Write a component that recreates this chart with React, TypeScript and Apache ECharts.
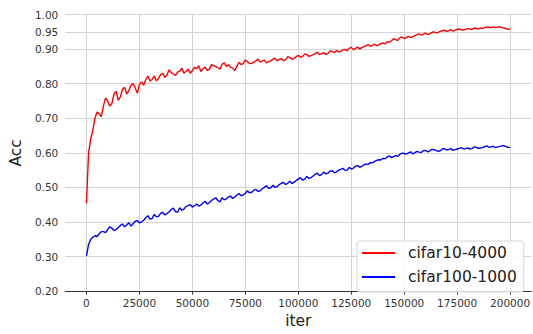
import React, { useEffect, useRef } from "react";
import * as echarts from "echarts";

// iterations (thousands) sampled on even steps
const iterEvenK = [
  0, 1, 2, 3, 4,
  6, 8, 10, 12, 14, 16, 18, 20, 22, 24,
  26, 28, 30, 32, 34, 36, 38, 40, 42, 44,
  46, 48, 50, 52, 54, 56, 58, 60, 62, 64,
  66, 68, 70, 72, 74, 76, 78, 80, 82, 84,
  86, 88, 90, 92, 94, 96, 98, 100, 102, 104,
  106, 108, 110, 112, 114, 116, 118, 120, 122, 124,
  126, 128, 130, 132, 134, 136, 138, 140, 142, 144,
  146, 148, 150, 152, 154, 156, 158, 160, 162, 164,
  166, 168, 170, 172, 174, 176, 178, 180, 182, 184,
  186, 188, 190, 192, 194, 196, 198, 200,
];

// iterations (thousands) sampled in between
const iterOddK = [
  5, 7, 9, 11, 13, 15, 17, 19, 21, 23,
  25, 27, 29, 31, 33, 35, 37, 39, 41, 43,
  45, 47, 49, 51, 53, 55, 57, 59, 61, 63,
  65, 67, 69, 71, 73, 75, 77, 79, 81, 83,
  85, 87, 89, 91, 93, 95, 97, 99,
  101, 103, 105, 107, 109, 111, 113, 115, 117, 119,
  121, 123, 125, 127, 129, 131, 133, 135, 137, 139,
  141, 143, 145, 147, 149, 151, 153, 155, 157, 159,
  161, 163, 165, 167, 169, 171, 173, 175, 177, 179,
  181, 183, 185, 187, 189, 191, 193, 195, 197, 199,
];

const cifar10Even = [
  0.455, 0.600, 0.640, 0.665, 0.700,
  0.712, 0.735, 0.750, 0.742, 0.778, 0.762, 0.790, 0.780, 0.800, 0.772,
  0.805, 0.812, 0.808, 0.822, 0.815, 0.830, 0.825, 0.832, 0.824, 0.836,
  0.830, 0.842, 0.838, 0.843, 0.835, 0.848, 0.842, 0.852, 0.846, 0.856,
  0.850, 0.848, 0.838, 0.862, 0.858, 0.864, 0.859, 0.866, 0.862, 0.868,
  0.864, 0.870, 0.866, 0.872, 0.869, 0.876, 0.873, 0.882, 0.878, 0.884,
  0.881, 0.887, 0.884, 0.890, 0.887, 0.893, 0.896, 0.893, 0.899, 0.902,
  0.898, 0.906, 0.904, 0.910, 0.908, 0.914, 0.912, 0.918, 0.921, 0.924,
  0.927, 0.933, 0.930, 0.937, 0.935, 0.942, 0.940, 0.946, 0.944, 0.950,
  0.948, 0.953, 0.951, 0.956, 0.954, 0.958, 0.955, 0.959, 0.957, 0.960,
  0.961, 0.962, 0.963, 0.964, 0.963, 0.962, 0.960, 0.958,
];

const cifar10Odd = [
  0.718, 0.705, 0.758, 0.735, 0.770, 0.752, 0.783, 0.770, 0.795, 0.788,
  0.798, 0.795, 0.822, 0.812, 0.808, 0.826, 0.818, 0.840, 0.828, 0.833,
  0.845, 0.836, 0.830, 0.847, 0.852, 0.843, 0.838, 0.855, 0.849, 0.842,
  0.860, 0.855, 0.845, 0.850, 0.855, 0.868, 0.858, 0.862, 0.871, 0.866,
  0.860, 0.866, 0.874, 0.870, 0.866, 0.878, 0.871, 0.878,
  0.876, 0.886, 0.879, 0.884, 0.891, 0.887, 0.884, 0.895, 0.890, 0.892,
  0.898, 0.895, 0.905, 0.902, 0.900, 0.907, 0.913, 0.911, 0.910, 0.916,
  0.915, 0.920, 0.930, 0.925, 0.935, 0.933, 0.934, 0.939, 0.944, 0.943,
  0.942, 0.948, 0.947, 0.951, 0.955, 0.953, 0.952, 0.957, 0.956, 0.957,
  0.958, 0.961, 0.958, 0.960, 0.964, 0.962, 0.962, 0.965, 0.961, 0.957,
];

const cifar100Even = [
  0.302, 0.335, 0.350, 0.356, 0.360,
  0.366, 0.372, 0.378, 0.382, 0.378, 0.390, 0.386, 0.398, 0.395, 0.404,
  0.400, 0.412, 0.408, 0.422, 0.416, 0.428, 0.424, 0.436, 0.430, 0.441,
  0.437, 0.447, 0.443, 0.452, 0.449, 0.460, 0.456, 0.466, 0.462, 0.470,
  0.467, 0.475, 0.472, 0.482, 0.478, 0.490, 0.486, 0.494, 0.490, 0.500,
  0.497, 0.506, 0.502, 0.512, 0.508, 0.518, 0.515, 0.524, 0.521, 0.532,
  0.528, 0.538, 0.534, 0.544, 0.541, 0.548, 0.545, 0.552, 0.550, 0.558,
  0.556, 0.563, 0.561, 0.568, 0.572, 0.575, 0.580, 0.584, 0.588, 0.586,
  0.592, 0.596, 0.598, 0.600, 0.597, 0.604, 0.601, 0.607, 0.605, 0.609,
  0.604, 0.611, 0.608, 0.612, 0.609, 0.613, 0.611, 0.614, 0.612, 0.616,
  0.614, 0.618, 0.616, 0.619, 0.617, 0.620, 0.618, 0.615,
];

const cifar100Odd = [
  0.358, 0.372, 0.369, 0.386, 0.375, 0.384, 0.394, 0.391, 0.388, 0.402,
  0.397, 0.405, 0.418, 0.410, 0.415, 0.425, 0.420, 0.429, 0.440, 0.428,
  0.434, 0.445, 0.450, 0.447, 0.446, 0.455, 0.452, 0.462, 0.470, 0.458,
  0.464, 0.472, 0.468, 0.478, 0.476, 0.483, 0.484, 0.492, 0.488, 0.496,
  0.505, 0.499, 0.500, 0.508, 0.514, 0.512, 0.511, 0.520,
  0.528, 0.524, 0.526, 0.533, 0.541, 0.537, 0.539, 0.547, 0.542, 0.550,
  0.555, 0.549, 0.553, 0.561, 0.558, 0.565, 0.566, 0.571, 0.578, 0.579,
  0.583, 0.591, 0.589, 0.590, 0.599, 0.596, 0.603, 0.600, 0.602, 0.606,
  0.603, 0.610, 0.607, 0.606, 0.612, 0.610, 0.607, 0.611, 0.615, 0.612,
  0.611, 0.617, 0.613, 0.615, 0.620, 0.617, 0.615, 0.618, 0.621, 0.616,
];

const xTicks = [0, 25000, 50000, 75000, 100000, 125000, 150000, 175000, 200000];
const yTicks = [0.2, 0.3, 0.4, 0.5, 0.6, 0.7, 0.8, 0.9, 0.95, 1.0];

const seriesNames = ["cifar10-4000", "cifar100-1000"];

const FONT = "DejaVu Sans";

export default function App() {
  const ref = useRef<HTMLDivElement>(null);

  useEffect(() => {
    if (!ref.current) return;
    const chart = echarts.init(ref.current, undefined, { renderer: "svg" });

    const merge = (even: number[], odd: number[]) => {
      const pts: number[][] = [];
      even.forEach((v, i) => pts.push([iterEvenK[i] * 1000, v]));
      odd.forEach((v, i) => pts.push([iterOddK[i] * 1000, v]));
      pts.sort((a, b) => a[0] - b[0]);
      return pts;
    };

    const gridLines = [
      ...yTicks.filter((v) => v > 0.2).map((v) => ({ yAxis: v })),
      ...xTicks.map((v) => ({ xAxis: v })),
    ];

    chart.setOption({
      animation: false,
      backgroundColor: "#ffffff",
      grid: { left: 61.6, right: 1.6, top: 14.5, bottom: 34, containLabel: false },
      legend: {
        data: seriesNames,
        orient: "vertical",
        left: 357,
        top: 241,
        z: 10,
        icon: "rect",
        itemWidth: 33,
        itemHeight: 2,
        itemGap: 6,
        padding: [3, 7, 6, 5],
        backgroundColor: "rgba(255,255,255,0.85)",
        borderColor: "#d6d6d6",
        borderWidth: 1,
        borderRadius: 3,
        textStyle: {
          fontFamily: FONT,
          fontSize: 15.5,
          color: "#222",
          lineHeight: 18,
          padding: [0, 0, 0, 8],
        },
      },
      xAxis: {
        type: "value",
        min: -10000,
        max: 210000,
        name: "iter",
        nameLocation: "middle",
        nameGap: 19,
        nameTextStyle: { fontFamily: FONT, fontSize: 15.5, color: "#222" },
        axisLine: { show: true, lineStyle: { color: "#333", width: 1 } },
        axisTick: {
          show: true,
          customValues: xTicks,
          length: 3.5,
          lineStyle: { color: "#333" },
        },
        axisLabel: {
          customValues: xTicks,
          formatter: (v: number) => String(v),
          fontFamily: FONT,
          fontSize: 10.5,
          color: "#333",
          margin: 6,
        },
        splitLine: { show: false },
      },
      yAxis: {
        type: "value",
        min: 0.2,
        max: 1.0,
        name: "Acc",
        nameLocation: "middle",
        nameGap: 34,
        nameTextStyle: { fontFamily: FONT, fontSize: 15.5, color: "#222" },
        axisLine: { show: false },
        axisTick: {
          show: true,
          customValues: yTicks,
          length: 3.5,
          lineStyle: { color: "#333" },
        },
        axisLabel: {
          customValues: yTicks,
          formatter: (v: number) => v.toFixed(2),
          fontFamily: FONT,
          fontSize: 10.5,
          color: "#333",
          margin: 7,
        },
        splitLine: { show: false },
      },
      series: [
        {
          name: "__grid",
          type: "line",
          data: [],
          z: 1,
          silent: true,
          markLine: {
            silent: true,
            z: 1,
            zlevel: 0,
            symbol: ["none", "none"],
            label: { show: false },
            emphasis: { disabled: true },
            lineStyle: { color: "#d3d3d3", width: 1, type: "solid" },
            data: gridLines,
          },
        },
        {
          name: seriesNames[0],
          type: "line",
          data: merge(cifar10Even, cifar10Odd),
          showSymbol: false,
          symbol: "none",
          z: 3,
          itemStyle: { color: "#ff0000" },
          lineStyle: { color: "#ff0000", width: 1.4 },
        },
        {
          name: seriesNames[1],
          type: "line",
          data: merge(cifar100Even, cifar100Odd),
          showSymbol: false,
          symbol: "none",
          z: 3,
          itemStyle: { color: "#0000ff" },
          lineStyle: { color: "#0000ff", width: 1.4 },
        },
      ],
    });

    return () => chart.dispose();
  }, []);

  return (
    <div
      ref={ref}
      style={{ position: "fixed", left: 0, top: 0, width: 533, height: 334 }}
    />
  );
}
